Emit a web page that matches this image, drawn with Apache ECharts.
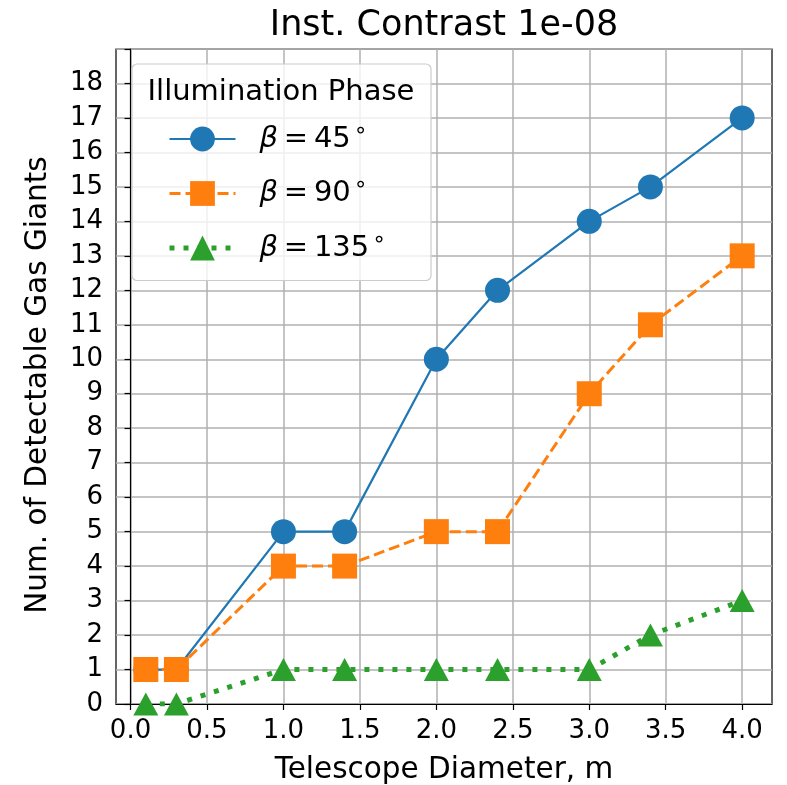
<!DOCTYPE html>
<html><head><meta charset="utf-8">
<script src="https://cdn.jsdelivr.net/npm/echarts@6/dist/echarts.min.js"></script>
<style>html,body{margin:0;padding:0;background:#fff}#c{width:787px;height:785px}</style>
</head><body><div id="c"></div>
<script>
const diameters = [0.1, 0.3, 1.0, 1.4, 2.0, 2.4, 3.0, 3.4, 4.0];
const beta45 = [1, 1, 5, 5, 10, 12, 14, 15, 17];
const beta90 = [1, 1, 4, 4, 5, 5, 9, 11, 13];
const beta135 = [0, 0, 1, 1, 1, 1, 1, 2, 3];
const xTicks = [0, 0.5, 1.0, 1.5, 2.0, 2.5, 3.0, 3.5, 4.0];
const seriesNames = ['β=45°', 'β=90°', 'β=135°'];
const legendTitle = 'Illumination Phase';
const titleText = 'Inst. Contrast 1e-08';
const xLabel = 'Telescope Diameter, m';
const yLabel = 'Num. of Detectable Gas Giants';

const FONT = 'DejaVu Sans';
const pairs = (ys) => diameters.map((x, i) => [x, ys[i]]);

const chart = echarts.init(document.getElementById('c'), null, {renderer: 'canvas'});
chart.setOption({
  animation: false,
  backgroundColor: '#fff',
  textStyle: {fontFamily: FONT},
  grid: {left: 116, right: 15, top: 49, bottom: 81, outerBoundsMode: 'none', containLabel: false,
         show: true, borderColor: '#000', borderWidth: 1.2, backgroundColor: 'transparent'},
  xAxis: {
    type: 'value', min: -0.095, max: 4.195,
    name: xLabel, nameLocation: 'middle', nameGap: 51,
    nameTextStyle: {fontSize: 29.5, color: '#000', fontFamily: FONT},
    axisLine: {show: true, lineStyle: {color: '#000', width: 1.2}},
    axisTick: {show: true, inside: false, length: 6, lineStyle: {color: '#000', width: 1.2}, customValues: xTicks},
    axisLabel: {fontSize: 26, color: '#000', margin: 14, fontFamily: FONT, customValues: xTicks, formatter: v => v.toFixed(1)},
    splitLine: {show: true, lineStyle: {color: '#b0b0b0', width: 1.5}}
  },
  yAxis: {
    type: 'value', min: 0, max: 19, interval: 1,
    axisLine: {show: true, lineStyle: {color: '#000', width: 1.2}},
    axisTick: {show: true, inside: false, length: 6, lineStyle: {color: '#000', width: 1.2}},
    axisLabel: {fontSize: 26, color: '#000', margin: 13, fontFamily: FONT, formatter: v => (v >= 19 ? '' : String(v))},
    splitLine: {show: true, lineStyle: {color: '#b0b0b0', width: 1.5}}
  },
  legend: {
    orient: 'vertical', left: 132, top: 64,
    padding: [56, 45, 18, 35],
    itemWidth: 66, itemHeight: 31, itemGap: 21,
    backgroundColor: 'rgba(255,255,255,0.8)', borderColor: '#cccccc', borderWidth: 1.2, borderRadius: 5,
    lineStyle: {width: 'inherit', type: 'inherit'},
    data: seriesNames,
    formatter: (name) => {
      const num = name.match(/\d+/)[0];
      return '{b|β}{t|\u2009=\u2009' + num + '}{s|∘}';
    },
    textStyle: {
      fontFamily: FONT, fontSize: 29, color: '#000', padding: [0, 0, 0, 19],
      rich: {
        b: {fontFamily: FONT, fontSize: 29, fontStyle: 'italic', color: '#000'},
        t: {fontFamily: FONT, fontSize: 29, color: '#000'},
        s: {fontFamily: FONT, fontSize: 22, color: '#000', padding: [0, 0, 16, 3]}
      }
    }
  },
  graphic: [
    {type: 'text', x: 444, y: 26, z: 100, style: {text: titleText, font: '35px "DejaVu Sans"', fill: '#000', textAlign: 'center', textVerticalAlign: 'middle'}},
    {type: 'text', x: 281, y: 92, z: 100, style: {text: legendTitle, font: '29px "DejaVu Sans"', fill: '#000', textAlign: 'center', textVerticalAlign: 'middle'}},
    {type: 'text', x: 38, y: 385, rotation: Math.PI / 2, z: 100, style: {text: yLabel, font: '29.5px "DejaVu Sans"', fill: '#000', textAlign: 'center', textVerticalAlign: 'middle'}}
  ],
  series: [
    {name: seriesNames[0], type: 'line', data: pairs(beta45), symbol: 'circle', symbolSize: 25,
     itemStyle: {color: '#1f77b4'}, lineStyle: {color: '#1f77b4', width: 2.2}},
    {name: seriesNames[1], type: 'line', data: pairs(beta90), symbol: 'rect', symbolSize: 25,
     itemStyle: {color: '#ff7f0e'}, lineStyle: {color: '#ff7f0e', width: 3, type: [11, 5]}},
    {name: seriesNames[2], type: 'line', data: pairs(beta135), symbol: 'triangle', symbolSize: [25, 23],
     itemStyle: {color: '#2ca02c'}, lineStyle: {color: '#2ca02c', width: 5, type: [5, 9]}}
  ]
});
</script></body></html>
